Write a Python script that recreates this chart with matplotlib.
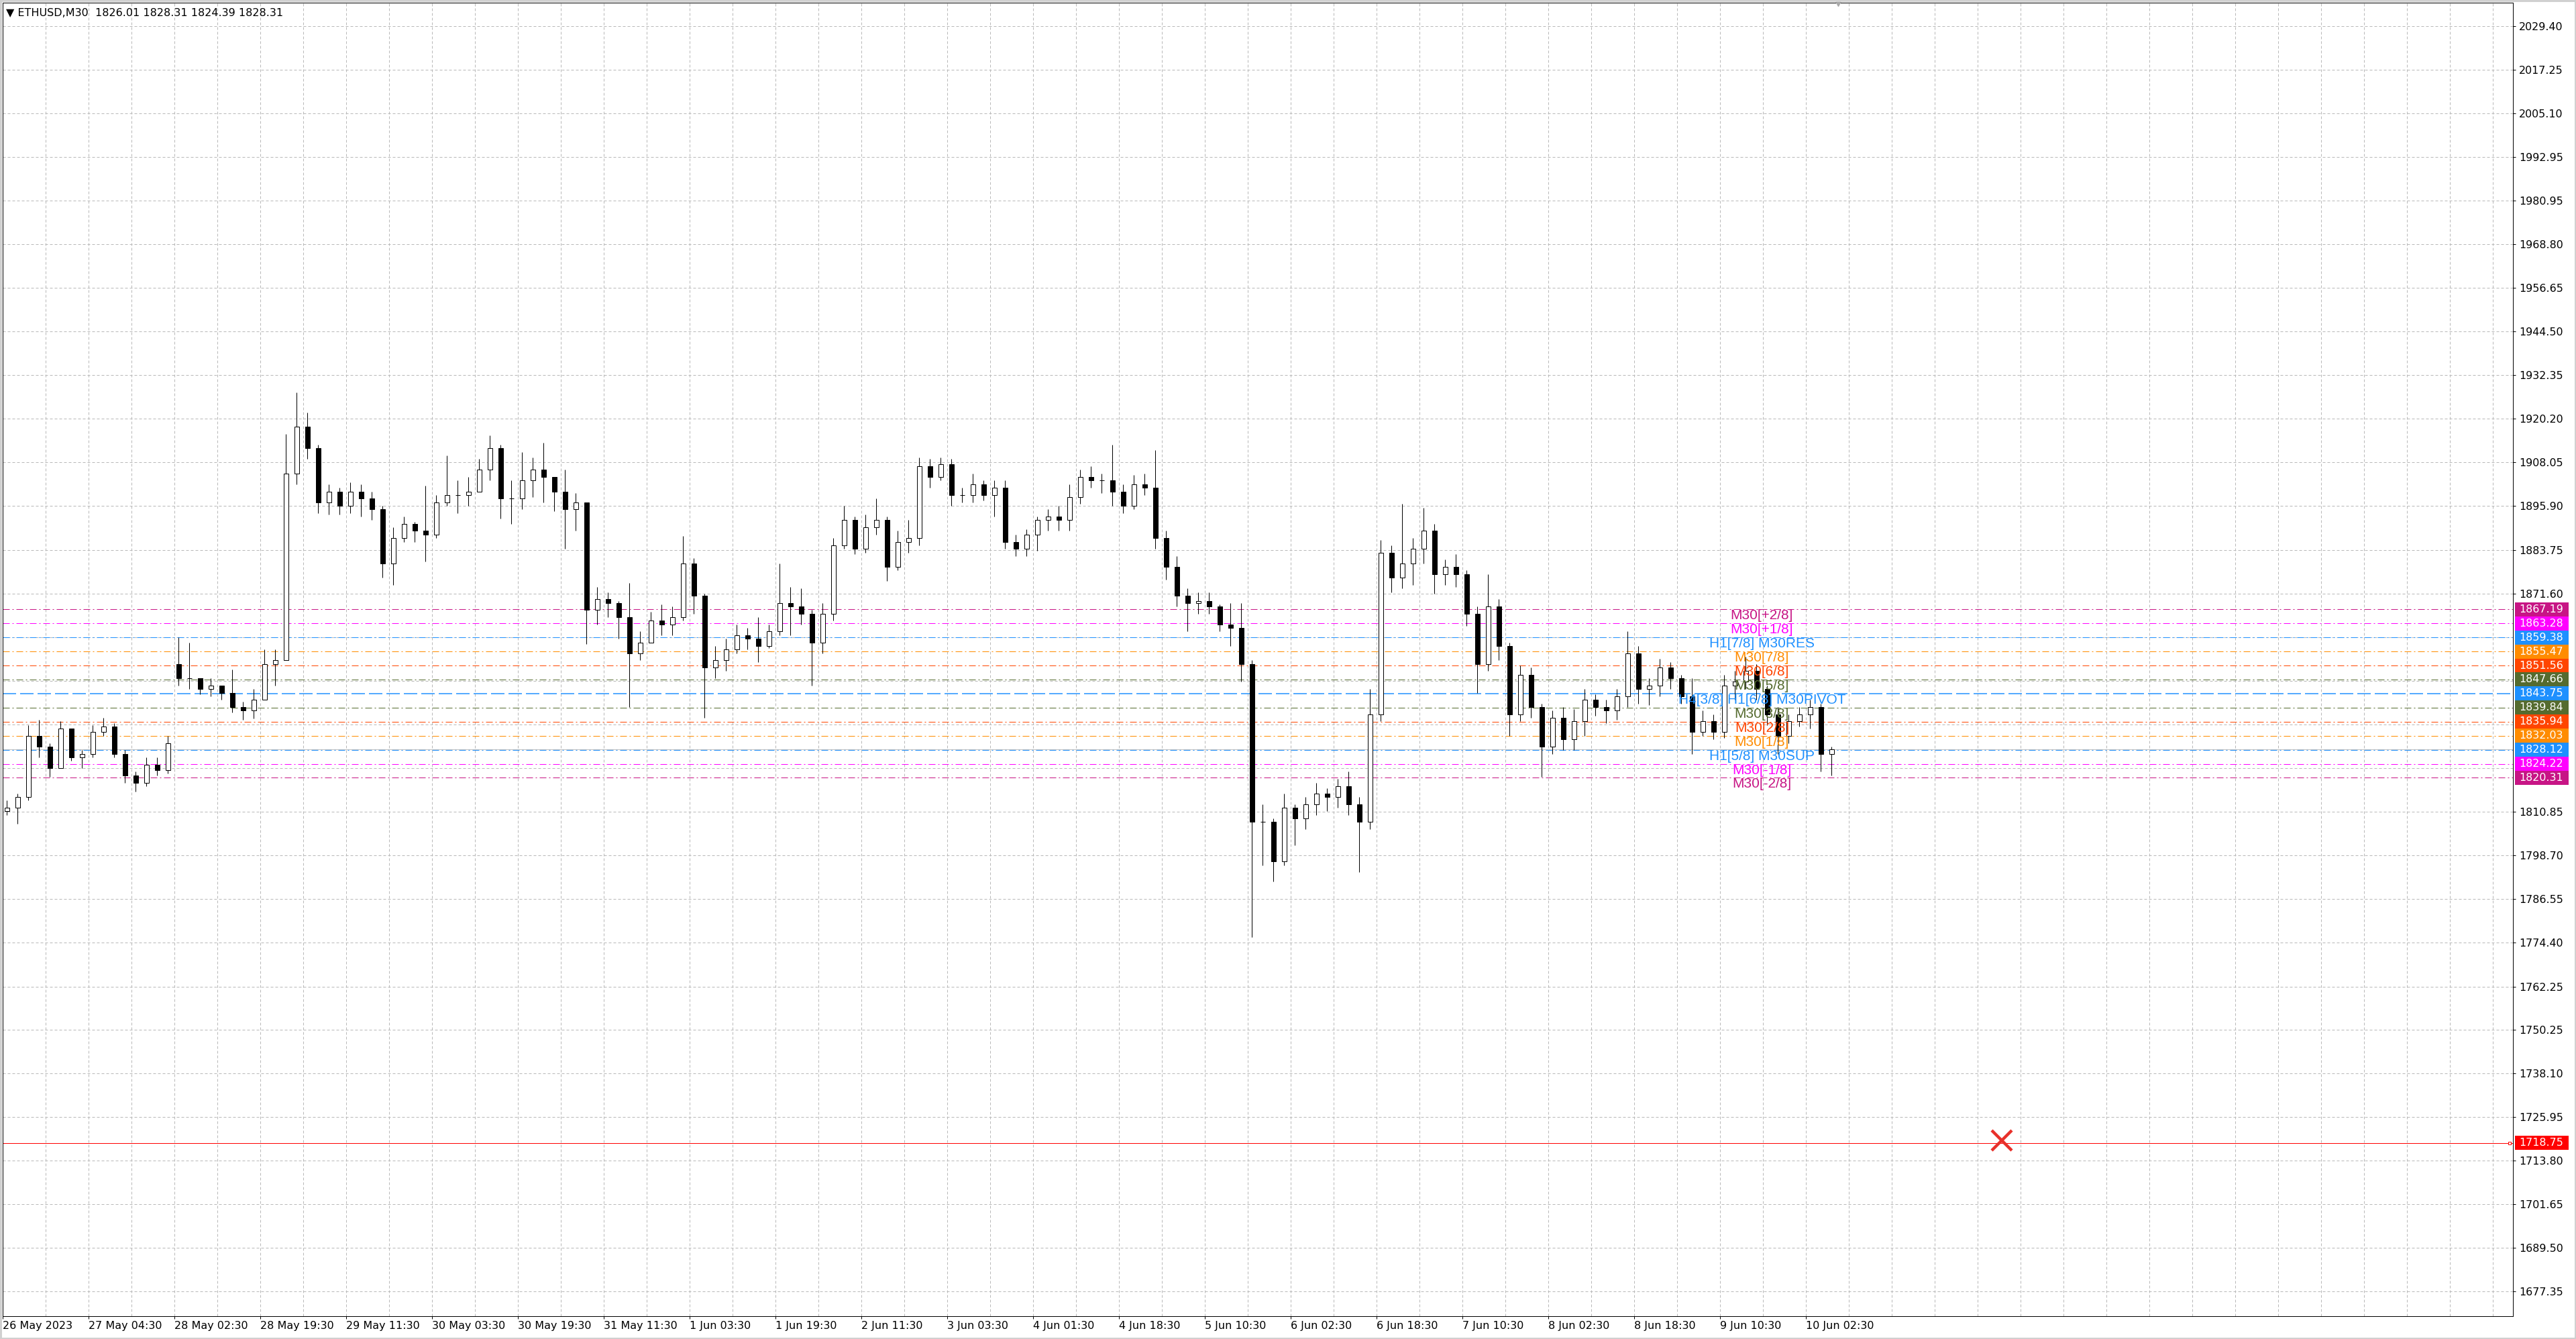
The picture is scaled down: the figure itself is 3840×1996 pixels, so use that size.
import numpy as np
import matplotlib
matplotlib.use('Agg')
import matplotlib.pyplot as plt
import matplotlib.transforms as mtransforms
from matplotlib.patches import Rectangle

plt.rcParams['lines.scale_dashes'] = False

# ETHUSD M30, aggregated here into 2-hour candles (4 bars of 30 min each)
first_open = 1811.0
gap_opens = {16: 1852.0}   # weekend gap after 28 May 02:30
closes = [1812, 1815, 1832, 1829, 1823, 1834, 1826, 1827, 1833, 1834.5,
          1827, 1821, 1819, 1824, 1822.5, 1830, 1848, 1848, 1845, 1846,
          1844, 1840, 1839, 1842, 1852, 1853, 1905, 1918, 1912, 1897,
          1900, 1896, 1900, 1898, 1895, 1880, 1887, 1891, 1889, 1888,
          1897, 1899, 1899, 1900, 1906, 1912, 1898, 1898, 1903, 1906,
          1904, 1900, 1895, 1897, 1867, 1870, 1869, 1865, 1855, 1858,
          1864, 1863, 1865, 1880, 1871, 1851, 1853, 1856, 1860, 1859,
          1857, 1861, 1869, 1868, 1866, 1858, 1866, 1885, 1892, 1884,
          1890, 1892, 1879, 1886, 1887, 1907, 1904, 1907.5, 1899, 1899,
          1902, 1899, 1901, 1886, 1884, 1888, 1892, 1893, 1892, 1898.5,
          1904, 1903, 1903, 1900, 1896, 1902, 1901, 1887, 1879, 1871,
          1869, 1869.5, 1868, 1863, 1862, 1852, 1808, 1808, 1797, 1812,
          1809, 1813, 1816, 1815, 1818, 1813, 1808, 1838, 1883, 1876,
          1880, 1884, 1889, 1877, 1879, 1877, 1866, 1852, 1868, 1857,
          1838, 1849, 1840, 1829, 1837, 1831, 1836, 1842, 1840, 1839,
          1843, 1855, 1845, 1846, 1851, 1848, 1843, 1833, 1836, 1833,
          1846, 1847, 1850, 1845, 1838, 1832, 1836, 1838, 1840, 1827,
          1828.31]
highs = [1814, 1816, 1835, 1836.5, 1830, 1836, 1834, 1828, 1835, 1837,
         1835.5, 1828, 1822, 1826, 1826, 1832, 1859.5, 1858, 1848, 1848,
         1846, 1850.5, 1841.5, 1845, 1856, 1856, 1916, 1927.5, 1922, 1913,
         1902, 1901, 1902.5, 1902, 1900, 1896, 1890, 1893, 1891.5, 1901.5,
         1899, 1910, 1903, 1904, 1909, 1915.5, 1913, 1903, 1911, 1909.5,
         1913.5, 1904, 1906, 1899.5, 1897, 1873.5, 1872, 1869.5, 1874.5, 1861,
         1866.5, 1868.5, 1868, 1887.5, 1881.5, 1871.5, 1857, 1859, 1863, 1862,
         1865, 1863, 1880, 1873.5, 1873, 1867, 1869, 1887, 1896, 1893,
         1893.5, 1898, 1893, 1889, 1892, 1909.5, 1909, 1909.5, 1909, 1901,
         1905, 1903, 1903, 1903, 1888, 1889.5, 1893, 1895, 1896, 1902,
         1906, 1907, 1905, 1913, 1902, 1904.5, 1905, 1911.5, 1889, 1882,
         1873, 1872, 1872, 1868.5, 1869, 1869, 1853, 1813, 1809, 1816,
         1813, 1815, 1819, 1817.5, 1820, 1822, 1815, 1845, 1886.5, 1885,
         1896.5, 1887, 1895.5, 1891, 1881, 1882.5, 1878, 1868, 1877, 1870,
         1858, 1851.5, 1851, 1841, 1839, 1840, 1839.5, 1845, 1843.5, 1842,
         1845, 1861, 1857, 1848, 1853.5, 1852.5, 1849, 1848, 1839, 1838,
         1849, 1850, 1854, 1852, 1846, 1840, 1838, 1840, 1842, 1841,
         1829]
lows = [1810, 1807.5, 1814, 1826, 1820.5, 1823, 1825, 1823, 1826, 1832,
        1826, 1819, 1816.5, 1818, 1821, 1821.5, 1846, 1845, 1843.5, 1843,
        1842, 1838.5, 1836.5, 1836.8, 1842, 1846, 1853, 1902, 1909, 1894,
        1893.5, 1893.5, 1894, 1893, 1892, 1876, 1874, 1886, 1886, 1880.5,
        1887, 1896, 1894, 1896, 1900, 1903, 1892.5, 1891, 1895, 1898.5,
        1897, 1894.5, 1884, 1889, 1857.5, 1863, 1865, 1859, 1840, 1853,
        1858, 1860, 1860, 1864, 1866, 1837, 1848, 1850, 1855, 1856,
        1852.5, 1856.5, 1860, 1860, 1863, 1846, 1855, 1864, 1884, 1882.6,
        1883, 1888, 1875, 1878, 1883, 1885, 1901, 1903, 1896, 1897,
        1897, 1897.5, 1893, 1884, 1882, 1882, 1883.5, 1889, 1889, 1889,
        1896.5, 1901, 1899.5, 1896, 1894, 1895, 1899, 1884, 1875.5, 1868,
        1861, 1866, 1866, 1861, 1857, 1847, 1776, 1796, 1791.5, 1796,
        1801.5, 1806, 1810, 1811, 1812, 1810, 1794, 1806, 1836, 1872,
        1873, 1874, 1880, 1871.5, 1874, 1873.5, 1862.5, 1844, 1850, 1853,
        1832, 1836, 1837, 1820.5, 1827, 1828, 1828, 1832, 1837.5, 1835.5,
        1836.5, 1840, 1841, 1840.5, 1843, 1845, 1841, 1827, 1832, 1831,
        1831.5, 1842, 1845, 1842, 1835, 1827, 1830, 1834.5, 1834, 1822,
        1821]

bars_per_candle = 4

# Murrey math levels (price, text, colour)
mm_levels = [1867.19, 1863.28, 1859.38, 1855.47, 1851.56, 1847.66, 1843.75,
             1839.84, 1835.94, 1832.03, 1828.12, 1824.22, 1820.31]
mm_texts = ['M30[+2/8]', 'M30[+1/8]', 'H1[7/8] M30RES', 'M30[7/8]', 'M30[6/8]',
            'M30[5/8]', 'H4[3/8] H1[6/8] M30PIVOT', 'M30[3/8]', 'M30[2/8]',
            'M30[1/8]', 'H1[5/8] M30SUP', 'M30[-1/8]', 'M30[-2/8]']
mm_colors = ['#c71585', '#ff00ff', '#1e90ff', '#ff8c00', '#ff4500', '#556b2f',
             '#1e90ff', '#556b2f', '#ff4500', '#ff8c00', '#1e90ff', '#ff00ff',
             '#c71585']
mm_label_bar = 655.5

red_level = 1718.75
cross_bar, cross_price = 745, 1719.5

price_grid = [2029.40, 2017.25, 2005.10, 1992.95, 1980.95, 1968.80, 1956.65,
              1944.50, 1932.35, 1920.20, 1908.05, 1895.90, 1883.75, 1871.60,
              1859.45, 1847.30, 1835.15, 1823.00, 1810.85, 1798.70, 1786.55,
              1774.40, 1762.25, 1750.25, 1738.10, 1725.95, 1713.80, 1701.65,
              1689.50, 1677.35]
hidden_ticks = [1859.45, 1847.30, 1835.15, 1823.00]

time_labels = ['26 May 2023', '27 May 04:30', '28 May 02:30', '28 May 19:30',
               '29 May 11:30', '30 May 03:30', '30 May 19:30', '31 May 11:30',
               '1 Jun 03:30', '1 Jun 19:30', '2 Jun 11:30', '3 Jun 03:30',
               '4 Jun 01:30', '4 Jun 18:30', '5 Jun 10:30', '6 Jun 02:30',
               '6 Jun 18:30', '7 Jun 10:30', '8 Jun 02:30', '8 Jun 18:30',
               '9 Jun 10:30', '10 Jun 02:30']
bars_per_label = 32

title = '\u25bc ETHUSD,M30  1826.01 1828.31 1824.39 1828.31'

# ---------------------------------------------------------------
W, H = 3840, 1996
PX = 72 / 100  # one pixel in points

fig = plt.figure(figsize=(W / 100, H / 100), dpi=100, facecolor='white')
ax = fig.add_axes([4 / W, (H - 1962) / H, (3746 - 4) / W, (1962 - 4) / H])
ax.set_facecolor('white')
ax.set_xlim(-0.125, 935.4)
ax.set_ylim(1670.53, 2035.97)

closes = np.array(closes, float)
highs = np.array(highs, float)
lows = np.array(lows, float)
opens = np.r_[first_open, closes[:-1]]
for k, v in gap_opens.items():
    opens[k] = v
n = len(closes)
xc = np.arange(n) * bars_per_candle + (bars_per_candle - 1) / 2

# grid
grid_kw = dict(color='#b8b8b8', lw=PX, ls=(0, (4 * PX, 3 * PX)), zorder=0)
for p in price_grid:
    ax.axhline(p, **grid_kw)
for gx in np.arange(0, 936, 16):
    ax.axvline(gx, **grid_kw)

# murrey lines
dashdot = (0, (10 * PX, 4 * PX, 2 * PX, 4 * PX))
for lvl, col in zip(mm_levels, mm_colors):
    if lvl == 1843.75:
        ax.axhline(lvl, color=col, lw=1.5 * PX, ls=(0, (20 * PX, 6 * PX)), zorder=1)
    else:
        ax.axhline(lvl, color=col, lw=PX, ls=dashdot, zorder=1)

# bid line and red level
ax.axhline(closes[-1], color='#c0c0c0', lw=PX, zorder=1)
ax.axhline(red_level, color='red', lw=PX, zorder=1)
ax.plot([934.2], [red_level], marker='s', ms=3, mfc='white', mec='red',
        mew=PX, zorder=3, clip_on=False)

# candles
ax.vlines(xc, lows, highs, color='black', lw=PX, zorder=3)
up = closes >= opens
body_w = 1.6
ax.bar(xc[up], closes[up] - opens[up], bottom=opens[up], width=body_w,
       color='white', edgecolor='black', linewidth=PX, zorder=4)
ax.bar(xc[~up], closes[~up] - opens[~up], bottom=opens[~up], width=body_w,
       color='black', edgecolor='black', linewidth=PX, zorder=4)

# murrey labels
for lvl, txt, col in zip(mm_levels, mm_texts, mm_colors):
    ax.text(mm_label_bar, lvl, txt, color=col, ha='center', va='top',
            fontsize=15, family='Liberation Sans', zorder=6)

# red cross
ax.plot([cross_bar], [cross_price], marker='x', ms=22, mew=3.2,
        color='#e8302a', zorder=6)

# chart shift marker
tr_top = mtransforms.blended_transform_factory(ax.transData, ax.transAxes)
ax.plot([n * bars_per_candle], [1.0], marker='v', ms=7, color='#a8a8a8',
        transform=tr_top, clip_on=False, zorder=7)

# axes styling
for s in ax.spines.values():
    s.set_color('black')
    s.set_linewidth(PX)
ax.yaxis.tick_right()
shown = [p for p in price_grid if p not in hidden_ticks]
ax.set_yticks(shown)
ax.set_yticklabels(['%.2f' % p for p in shown])
ax.tick_params(axis='y', which='major', direction='out', length=4 * PX,
               width=PX, pad=5 * PX, labelsize=11.4, colors='black')
xt = np.arange(len(time_labels)) * bars_per_label
ax.set_xticks(xt)
ax.set_xticklabels(time_labels)
ax.tick_params(axis='x', which='major', direction='out', length=4 * PX,
               width=PX, pad=3 * PX, labelsize=11.5, colors='black')
for lab in ax.get_xticklabels():
    lab.set_horizontalalignment('left')

# right-axis price boxes
tr_box = mtransforms.blended_transform_factory(ax.transAxes, ax.transData)
bx0 = (3749 - 4) / 3742
bw = 80 / 3742
tx = (3755 - 4) / 3742
box_h = 3.91
for lvl, col in zip(mm_levels + [red_level], mm_colors + ['#ff0000']):
    ax.add_patch(Rectangle((bx0, lvl - box_h / 2), bw, box_h, transform=tr_box,
                           facecolor=col, edgecolor='none', clip_on=False,
                           zorder=8))
    ax.text(tx, lvl, '%.2f' % lvl, transform=tr_box, color='white',
            fontsize=11.4, va='center', ha='left', clip_on=False, zorder=9)

# header text
fig.text(9 / W, 1 - 20 / H, title, fontsize=11.5, va='center', ha='left',
         color='black')

# window border
fig.patches.append(Rectangle((0, 0), 1, 1, transform=fig.transFigure,
                             fill=False, edgecolor='#d0d0d0', lw=5 * PX))

fig.savefig('out.png', dpi=100, facecolor='white')
